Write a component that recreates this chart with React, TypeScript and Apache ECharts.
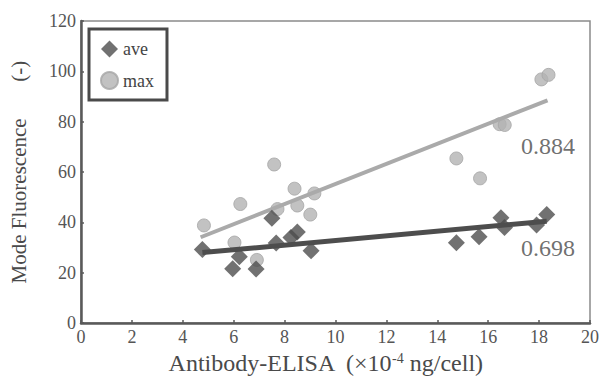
import React, { useEffect, useRef } from "react";
import * as echarts from "echarts";

const xTicks = [0, 2, 4, 6, 8, 10, 12, 14, 16, 18, 20];
const yTicks = [0, 20, 40, 60, 80, 100, 120];

const aveX = [4.77, 5.96, 6.22, 6.88, 7.5, 7.67, 8.25, 8.5, 9.04, 14.75, 15.64, 16.5, 16.64, 17.9, 18.3];
const aveY = [29.2, 21.6, 26.4, 21.5, 41.6, 31.8, 34.0, 36.2, 28.7, 31.9, 34.3, 41.8, 38.0, 39.0, 43.1];

const maxX = [4.83, 6.03, 6.26, 6.91, 7.59, 7.72, 8.39, 8.5, 9.01, 9.17, 14.75, 15.68, 16.45, 16.65, 18.09, 18.37];
const maxY = [38.8, 32.0, 47.3, 25.1, 63.0, 45.3, 53.4, 46.7, 43.1, 51.5, 65.4, 57.5, 79.0, 78.7, 96.8, 98.6];

const aveFitX = [4.77, 18.3];
const aveFitY = [28.0, 40.5];
const maxFitX = [4.7, 18.33];
const maxFitY = [34.1, 88.5];

const r2Labels = ["0.884", "0.698"];
const r2X = [18.35, 18.35];
const r2Y = [70.5, 30.0];

const FONT = '"Liberation Serif", "DejaVu Serif", serif';

export default function App() {
  const ref = useRef<HTMLDivElement>(null);
  useEffect(() => {
    if (!ref.current) return;
    const chart = echarts.init(ref.current, undefined, { renderer: "svg" });
    const zip = (xs: number[], ys: number[]) => xs.map((x, i) => [x, ys[i]]);
    chart.setOption({
      animation: false,
      backgroundColor: "#ffffff",
      textStyle: { fontFamily: FONT },
      grid: { left: 78, right: 13, top: 21, bottom: 48, show: true, borderColor: "#8a8a8a", borderWidth: 1.5 },
      legend: {
        left: 89,
        top: 29,
        orient: "vertical",
        data: [
          { name: "ave", icon: "diamond" },
          { name: "max", icon: "circle" },
        ],
        itemWidth: 17,
        itemHeight: 17,
        itemGap: 13,
        padding: [11, 13, 10, 11],
        borderColor: "#4a4a4a",
        borderWidth: 3,
        textStyle: { fontFamily: FONT, fontSize: 18, color: "#444" },
      },
      xAxis: {
        type: "value",
        min: 0,
        max: 20,
        interval: 2,
        name: "Antibody-ELISA  (×10{sup|-4} ng/cell)",
        nameLocation: "middle",
        nameGap: 21,
        nameTextStyle: {
          fontFamily: FONT,
          fontSize: 24,
          color: "#4a4a4a",
          verticalAlign: "top",
          padding: [0, 20, 0, 0],
          rich: { sup: { fontSize: 14, verticalAlign: "top", fontFamily: FONT, color: "#4a4a4a", padding: [0, 0, 8, 0] } },
        },
        axisLine: { lineStyle: { color: "#5a5a5a", width: 2.5 } },
        axisTick: { inside: true, length: 3, lineStyle: { color: "#5a5a5a", width: 1.5 } },
        axisLabel: { fontFamily: FONT, fontSize: 18, color: "#555", margin: 5 },
        splitLine: { show: false },
      },
      yAxis: {
        type: "value",
        min: 0,
        max: 120,
        interval: 20,
        name: "Mode Fluorescence\u3000   (-)",
        nameLocation: "middle",
        nameGap: 52,
        nameTextStyle: { fontFamily: FONT, fontSize: 21, color: "#4a4a4a" },
        axisLine: { lineStyle: { color: "#5a5a5a", width: 2.5 } },
        axisTick: { inside: true, length: 3, lineStyle: { color: "#5a5a5a", width: 1.5 } },
        axisLabel: { fontFamily: FONT, fontSize: 18, color: "#555", margin: 5 },
        splitLine: { show: false },
      },
      series: [
        {
          name: "max",
          type: "scatter",
          symbol: "circle",
          symbolSize: 13,
          itemStyle: { color: "#b3b3b3", borderColor: "#a5a5a5", borderWidth: 1 },
          data: zip(maxX, maxY),
          z: 2,
        },
        {
          name: "maxFit",
          type: "line",
          symbol: "none",
          lineStyle: { color: "#aaaaaa", width: 4 },
          data: zip(maxFitX, maxFitY),
          z: 3,
        },
        {
          name: "ave",
          type: "scatter",
          symbol: "diamond",
          symbolSize: 17,
          itemStyle: { color: "#4d4d4d" },
          data: zip(aveX, aveY),
          z: 4,
        },
        {
          name: "aveFit",
          type: "line",
          symbol: "none",
          lineStyle: { color: "#4d4d4d", width: 5 },
          data: zip(aveFitX, aveFitY),
          z: 5,
        },
        {
          name: "r2",
          type: "scatter",
          symbolSize: 0,
          silent: true,
          data: r2Labels.map((t, i) => ({ value: [r2X[i], r2Y[i]], name: t })),
          label: {
            show: true,
            position: "inside",
            formatter: (p: any) => p.name,
            fontFamily: FONT,
            fontSize: 24,
            color: "#4a4a4a",
          },
          z: 6,
        },
      ],
    });
    return () => chart.dispose();
  }, []);
  return (
    <div
      ref={ref}
      style={{ position: "fixed", left: 0, top: 0, width: 603, height: 380 }}
    />
  );
}
